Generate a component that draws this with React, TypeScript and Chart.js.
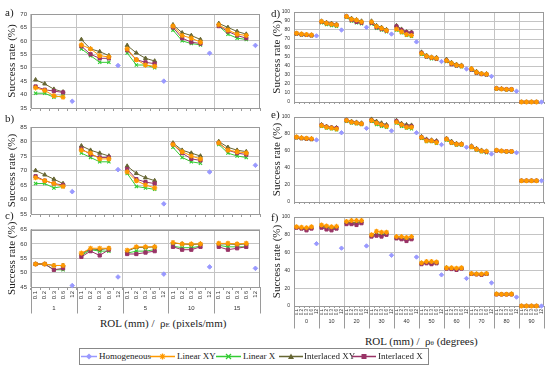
import React, { useEffect, useRef } from 'react';
import { Chart, registerables } from 'chart.js';
Chart.register(...registerables);

// ---------- categories / labels ----------
const SUB_LABELS = ['0.1', '0.2', '0.3', '0.6', '12'];
const GROUPS_ROL = ['1', '2', '5', '10', '15'];
const GROUPS_DEG = ['0', '10', '20', '30', '40', '50', '60', '70', '80', '90'];

// ---------- panel a ----------
const A_HOM = [37.5, 50.8, 45.0, 55.4, 58.3];
const A_LXY = [42.5, 41.5, 39.6, 39.0, 58.5, 57.0, 54.5, 54.0, 57.0, 53.0, 51.0, 50.5, 65.5, 62.0, 61.0, 59.5, 66.0, 64.0, 62.5, 62.0];
const A_LX = [40.5, 40.5, 39.0, 39.6, 57.0, 54.5, 52.0, 52.0, 55.5, 51.0, 51.0, 50.0, 64.0, 60.0, 59.0, 58.5, 65.5, 62.5, 61.0, 60.5];
const A_IXY = [45.5, 44.0, 42.0, 41.0, 60.5, 57.0, 56.0, 54.5, 58.3, 55.5, 53.5, 52.5, 66.0, 63.0, 62.0, 60.5, 66.5, 65.0, 63.5, 62.5];
const A_IX = [43.0, 41.8, 41.3, 40.8, 58.0, 55.0, 53.5, 53.5, 56.5, 53.0, 52.0, 51.5, 65.0, 61.0, 59.5, 59.0, 65.5, 63.5, 62.0, 61.0];

// ---------- panel b ----------
const B_HOM = [62.7, 70.3, 58.5, 69.5, 71.8];
const B_LXY = [67.5, 66.5, 65.5, 64.5, 77.0, 76.0, 74.0, 74.0, 69.5, 66.5, 65.0, 64.0, 79.0, 76.5, 75.0, 74.0, 79.5, 77.0, 76.5, 76.0];
const B_LX = [65.5, 65.5, 64.0, 64.5, 76.0, 74.5, 73.0, 73.0, 69.0, 64.5, 64.0, 63.5, 78.0, 74.5, 73.0, 72.5, 79.0, 76.0, 75.0, 74.5];
const B_IXY = [70.0, 68.5, 67.0, 65.5, 78.5, 77.0, 76.0, 75.0, 71.5, 69.0, 67.5, 66.5, 79.5, 77.0, 76.0, 75.0, 80.0, 78.0, 77.0, 76.5];
const B_IX = [68.0, 66.5, 65.5, 65.0, 77.5, 75.5, 74.5, 74.5, 70.5, 67.0, 66.0, 65.5, 79.0, 76.0, 74.0, 73.5, 79.5, 77.0, 76.0, 75.5];

// ---------- panel c ----------
const C_HOM = [45.5, 48.5, 49.5, 52.0, 51.5];
const C_LXY = [53.0, 53.0, 52.5, 52.5, 56.8, 58.5, 58.5, 58.5, 57.8, 59.0, 59.0, 59.0, 60.5, 60.0, 60.0, 60.0, 60.2, 60.2, 60.0, 60.2];
const C_LX = [53.0, 53.0, 51.0, 51.0, 56.0, 58.0, 57.5, 57.5, 56.8, 57.5, 57.5, 58.0, 59.2, 58.7, 58.7, 59.2, 59.5, 59.0, 59.0, 59.0];
const C_IXY = [53.0, 53.0, 52.5, 52.5, 56.5, 58.3, 58.0, 58.5, 57.5, 58.8, 58.8, 59.0, 60.3, 60.0, 59.8, 60.0, 60.0, 60.0, 59.8, 60.0];
const C_IX = [53.0, 53.0, 51.0, 51.5, 55.5, 57.5, 56.0, 58.0, 56.5, 56.5, 57.0, 57.5, 59.0, 58.0, 58.0, 59.0, 59.0, 58.0, 58.5, 59.0];

// ---------- panel d ----------
const D_HOM = [73.5, 80.0, 83.0, 75.5, 66.8, 45.0, 36.7, 28.5, 12.0, 0];
const D_LXY = [76.5, 75.5, 75.0, 74.5, 89.5, 87.5, 86.5, 85.5, 95.0, 92.0, 91.0, 89.0, 89.0, 84.0, 82.0, 79.5, 81.0, 78.0, 75.0, 74.0, 54.0, 51.0, 49.5, 48.5, 46.0, 43.0, 41.0, 40.0, 37.0, 33.0, 31.5, 31.0, 15.0, 14.5, 14.0, 14.0, 0, 0, 0, 0];
const D_LX = [75.5, 74.5, 74.0, 73.5, 88.0, 86.0, 85.0, 84.0, 94.0, 90.0, 88.0, 87.0, 87.0, 82.0, 80.0, 78.0, 80.0, 77.0, 74.0, 73.0, 53.0, 50.0, 48.0, 47.5, 45.0, 42.0, 40.0, 39.0, 35.5, 32.0, 31.0, 30.0, 14.5, 14.0, 13.5, 13.5, 0, 0, 0, 0];
const D_IXY = [76.5, 75.5, 75.0, 74.5, 90.0, 88.5, 87.5, 86.5, 95.5, 93.0, 91.5, 90.0, 90.0, 85.0, 83.0, 80.5, 85.0, 81.0, 78.0, 77.5, 55.5, 52.0, 50.0, 49.5, 47.5, 44.0, 42.0, 41.0, 37.5, 34.0, 32.0, 31.5, 15.5, 14.8, 14.3, 14.3, 0, 0, 0, 0];
const D_IX = [76.0, 75.0, 74.5, 74.0, 89.0, 87.5, 86.5, 85.5, 95.0, 91.0, 89.0, 88.0, 88.0, 83.0, 81.0, 79.0, 84.0, 80.0, 77.5, 77.0, 54.5, 50.5, 49.0, 48.0, 46.0, 42.0, 40.5, 40.0, 36.0, 32.5, 31.0, 30.5, 15.0, 14.5, 14.0, 14.0, 0, 0, 0, 0];

// ---------- panel e ----------
const E_HOM = [73.0, 81.5, 86.7, 83.7, 81.5, 67.5, 64.5, 56.5, 58.0, 25.0];
const E_LXY = [76.5, 75.5, 75.0, 74.5, 90.0, 88.0, 87.0, 86.0, 96.0, 94.0, 93.0, 92.0, 96.0, 93.0, 91.0, 89.0, 94.0, 91.0, 88.0, 88.0, 76.0, 72.0, 72.0, 70.0, 74.0, 70.0, 68.0, 68.0, 65.0, 62.0, 60.0, 59.5, 61.0, 60.0, 59.5, 59.5, 25, 25, 25, 25];
const E_LX = [75.5, 74.5, 74.0, 73.5, 89.0, 87.0, 86.0, 85.0, 95.0, 93.0, 92.0, 91.0, 95.0, 91.0, 89.0, 88.0, 93.0, 89.0, 87.0, 86.0, 75.0, 71.0, 71.0, 69.0, 73.0, 69.0, 67.0, 67.0, 64.0, 61.0, 59.0, 58.0, 60.5, 59.5, 59.0, 59.0, 25, 25, 25, 25];
const E_IXY = [76.5, 75.5, 75.0, 74.5, 91.0, 89.0, 88.0, 87.5, 96.5, 95.0, 94.0, 93.0, 97.5, 95.0, 93.0, 91.0, 96.0, 92.5, 91.0, 90.5, 77.0, 74.0, 73.0, 72.0, 75.0, 71.5, 69.0, 68.5, 66.0, 63.0, 61.0, 60.0, 61.0, 60.0, 59.5, 59.5, 25, 25, 25, 25];
const E_IX = [76.0, 75.0, 74.5, 74.0, 90.5, 88.5, 87.5, 87.0, 96.0, 94.0, 93.0, 92.0, 96.0, 93.0, 91.0, 89.5, 95.0, 91.0, 89.0, 89.0, 76.0, 73.0, 72.0, 71.0, 74.0, 70.0, 68.0, 68.0, 65.0, 62.0, 60.0, 59.0, 60.5, 60.0, 59.5, 59.5, 25, 25, 25, 25];

// ---------- panel f ----------
const F_HOM = [70.0, 65.0, 67.5, 57.0, 55.0, 35.0, 31.0, 26.0, 10.0, 0];
const F_LXY = [89.0, 88.5, 88.0, 89.0, 91.0, 90.0, 89.0, 89.5, 95.0, 96.0, 96.0, 96.0, 80.0, 84.0, 83.0, 83.0, 78.0, 78.0, 77.0, 78.0, 48.5, 50.0, 50.0, 49.5, 43.0, 43.0, 42.5, 43.0, 36.5, 36.0, 36.0, 36.5, 13.5, 13.2, 13.2, 13.5, 0, 0, 0, 0];
const F_LX = [88.0, 87.0, 86.0, 88.0, 89.0, 88.0, 87.0, 87.0, 94.0, 93.0, 93.0, 94.0, 79.0, 80.0, 80.0, 81.0, 76.0, 76.0, 75.0, 76.0, 48.0, 49.0, 48.0, 48.0, 43.0, 42.0, 41.5, 42.5, 36.0, 36.0, 35.5, 36.0, 13.5, 13.0, 13.0, 13.5, 0, 0, 0, 0];
const F_IXY = [88.5, 88.0, 87.0, 88.0, 90.0, 89.0, 88.0, 89.0, 94.0, 94.0, 94.0, 95.0, 79.0, 81.0, 80.0, 82.0, 77.0, 76.0, 75.0, 76.0, 48.0, 49.0, 48.0, 49.0, 43.0, 42.5, 42.0, 42.5, 36.0, 36.0, 35.5, 36.0, 13.5, 13.0, 13.0, 13.5, 0, 0, 0, 0];
const F_IX = [88.0, 87.0, 85.0, 87.0, 88.0, 86.0, 85.0, 87.0, 92.0, 92.0, 91.0, 93.0, 78.0, 79.0, 78.0, 80.0, 76.0, 75.0, 73.0, 75.0, 47.0, 48.0, 47.0, 48.0, 42.0, 41.5, 40.5, 42.0, 36.0, 35.5, 35.0, 36.0, 13.0, 13.0, 13.0, 13.0, 0, 0, 0, 0];

// ---------- styling ----------
const COL_HOM = '#9999FF';
const COL_LXY = '#FF9900';
const COL_LX = '#33CC33';
const COL_IXY = '#666633';
const COL_IX = '#993366';
const GRID = '#c4c4c4';
const AXIS = '#9a9a9a';
const SERIF = '"Liberation Serif", "Times New Roman", serif';
const SANS = '"Liberation Sans", Arial, sans-serif';

function spread(vals: number[], nGroups: number): (number | null)[] {
  const out: (number | null)[] = [];
  for (let g = 0; g < nGroups; g++) for (let s = 0; s < 5; s++) out.push(s < 4 ? vals[g * 4 + s] : null);
  return out;
}
function spreadHom(vals: number[], nGroups: number): (number | null)[] {
  const out: (number | null)[] = [];
  for (let g = 0; g < nGroups; g++) for (let s = 0; s < 5; s++) out.push(s === 4 ? vals[g] : null);
  return out;
}

interface PanelDef {
  left: number; top: number; w: number; h: number;
  padTop: number; padRight: number; yWidth: number; xHeight: number;
  min: number; max: number; step: number;
  groups: string[]; showLabels: boolean;
  tickLen: number; subFont: number; groupFont: number; groupY: number; sepLen: number;
  yFont: number; r: number;
  hom: number[]; lxy: number[]; lx: number[]; ixy: number[]; ix: number[];
}

const decoPlugin = {
  id: 'deco',
  beforeDatasetsDraw(chart: any, _a: any, opts: any) {
    const { ctx, chartArea: a } = chart;
    ctx.save();
    ctx.strokeStyle = AXIS;
    ctx.lineWidth = 1;
    const l = Math.round(a.left) + 0.5, t = Math.round(a.top) + 0.5;
    const r = Math.round(a.right) - 0.5, b = Math.round(a.bottom) + 0.5;
    ctx.strokeRect(l, t, r - l, b - t);
    if (opts.showGroups) {
      const n = opts.groups.length;
      const gw = (a.right - a.left) / n;
      ctx.beginPath();
      for (let g = 0; g <= n; g++) {
        const x = Math.round(a.left + g * gw) + 0.5;
        ctx.moveTo(x, b);
        ctx.lineTo(x, b + opts.sepLen);
      }
      ctx.stroke();
    }
    ctx.restore();
  },
  afterDraw(chart: any, _a: any, opts: any) {
    const { ctx, chartArea: a } = chart;
    ctx.save();
    ctx.fillStyle = '#222';
    ctx.font = `11px ${SERIF}`;
    ctx.textAlign = 'center';
    ctx.textBaseline = 'middle';
    ctx.translate(12, (a.top + a.bottom) / 2);
    ctx.rotate(-Math.PI / 2);
    ctx.fillText('Success rate (%)', 0, 0);
    ctx.restore();
    if (opts.showGroups) {
      const n = opts.groups.length;
      const gw = (a.right - a.left) / n;
      ctx.save();
      ctx.fillStyle = '#333';
      ctx.font = `${opts.groupFont}px ${SANS}`;
      ctx.textAlign = 'center';
      ctx.textBaseline = 'middle';
      for (let g = 0; g < n; g++) {
        ctx.fillText(opts.groups[g], a.left + (g + 0.5) * gw, a.bottom + opts.groupY);
      }
      ctx.restore();
    }
  },
};

function buildConfig(p: PanelDef): any {
  const n = p.groups.length;
  const labels: string[] = [];
  for (let g = 0; g < n; g++) for (const s of SUB_LABELS) labels.push(s);
  const line = (label: string, vals: number[], color: string, style: string, order: number, rad: number, bw: number) => ({
    label, data: spread(vals, n), borderColor: color, backgroundColor: color,
    borderWidth: 1, pointStyle: style, pointRadius: rad, pointBorderWidth: bw,
    pointBackgroundColor: color, pointBorderColor: color, spanGaps: false, order, clip: false,
  });
  const datasets = [
    line('Linear XY', p.lxy, COL_LXY, 'star', 0, p.r + 0.3, 1.2),
    line('Interlaced X', p.ix, COL_IX, 'rect', 1, p.r, 1),
    line('Interlaced XY', p.ixy, COL_IXY, 'triangle', 2, p.r, 1),
    line('Linear X', p.lx, COL_LX, 'crossRot', 3, p.r, 1.1),
    {
      label: 'Homogeneous', data: spreadHom(p.hom, n), borderColor: COL_HOM, backgroundColor: COL_HOM,
      borderWidth: 1, showLine: false, pointStyle: 'rectRot', pointRadius: p.r, pointBorderWidth: 1,
      pointBackgroundColor: COL_HOM, pointBorderColor: COL_HOM, order: 4, clip: false,
    },
  ];
  return {
    type: 'line',
    data: { labels, datasets },
    options: {
      animation: false,
      responsive: false,
      devicePixelRatio: 1,
      events: [],
      layout: { padding: { top: p.padTop, right: p.padRight, left: 0, bottom: 0 } },
      plugins: {
        legend: { display: false },
        tooltip: { enabled: false },
        deco: { groups: p.groups, showGroups: p.showLabels, groupFont: p.groupFont, groupY: p.groupY, sepLen: p.sepLen },
      },
      scales: {
        x: {
          type: 'category',
          offset: true,
          grid: {
            offset: true,
            color: (c: any) => (typeof c.index === 'number' && c.index % 5 === 0 ? GRID : 'rgba(0,0,0,0)'),
            tickColor: AXIS,
            tickLength: p.tickLen,
            drawTicks: true,
          },
          border: { display: true, color: AXIS },
          ticks: {
            display: p.showLabels, autoSkip: false, maxRotation: 90, minRotation: 90, padding: 1,
            font: { size: p.subFont, family: SANS }, color: '#333',
          },
          afterFit: (s: any) => { s.height = p.xHeight; },
        },
        y: {
          min: p.min, max: p.max,
          ticks: { stepSize: p.step, padding: 4, font: { size: p.yFont, family: SANS }, color: '#333' },
          grid: { color: GRID, drawTicks: false },
          border: { display: true, color: AXIS },
          afterFit: (s: any) => { s.width = p.yWidth; },
        },
      },
    },
    plugins: [decoPlugin],
  };
}

const LEFT = { left: 0, w: 270, padRight: 10, yWidth: 31, groups: GROUPS_ROL, step: 5, subFont: 6, groupFont: 6, yFont: 6, r: 2.3 };
const RIGHT = { left: 265, w: 285, padRight: 6, yWidth: 29, groups: GROUPS_DEG, step: 10, subFont: 4.5, groupFont: 5.5, yFont: 5, r: 2.2, min: 0, max: 100 };

const PANELS: PanelDef[] = [
  { ...LEFT, top: 0, h: 116, padTop: 14, xHeight: 8, min: 35, max: 70, showLabels: false, tickLen: 3, groupY: 21, sepLen: 26, hom: A_HOM, lxy: A_LXY, lx: A_LX, ixy: A_IXY, ix: A_IX },
  { ...LEFT, top: 116, h: 106, padTop: 11, xHeight: 8, min: 55, max: 85, showLabels: false, tickLen: 3, groupY: 21, sepLen: 26, hom: B_HOM, lxy: B_LXY, lx: B_LX, ixy: B_IXY, ix: B_IX },
  { ...LEFT, top: 222, h: 94, padTop: 6, xHeight: 29, min: 45, max: 65, showLabels: true, tickLen: 3, groupY: 21, sepLen: 26, hom: C_HOM, lxy: C_LXY, lx: C_LX, ixy: C_IXY, ix: C_IX },
  { ...RIGHT, top: 0, h: 110, padTop: 12, xHeight: 8, showLabels: false, tickLen: 2, groupY: 15, sepLen: 22, hom: D_HOM, lxy: D_LXY, lx: D_LX, ixy: D_IXY, ix: D_IX },
  { ...RIGHT, top: 110, h: 100, padTop: 2, xHeight: 8, showLabels: false, tickLen: 2, groupY: 15, sepLen: 22, hom: E_HOM, lxy: E_LXY, lx: E_LX, ixy: E_IXY, ix: E_IX },
  { ...RIGHT, top: 210, h: 122, padTop: 5, xHeight: 26, showLabels: true, tickLen: 2, groupY: 15, sepLen: 22, hom: F_HOM, lxy: F_LXY, lx: F_LX, ixy: F_IXY, ix: F_IX },
];

const PANEL_TAGS = [
  { t: 'a)', x: 5, y: 6 }, { t: 'b)', x: 5, y: 112 }, { t: 'c)', x: 5, y: 209 },
  { t: 'd)', x: 271, y: 7 }, { t: 'e)', x: 271, y: 108 }, { t: 'f)', x: 271, y: 211 },
];

function PanelChart({ p }: { p: PanelDef }) {
  const ref = useRef<HTMLCanvasElement>(null);
  useEffect(() => {
    if (!ref.current) return;
    const chart = new Chart(ref.current, buildConfig(p));
    return () => chart.destroy();
  }, [p]);
  return (
    <canvas ref={ref} width={p.w} height={p.h}
      style={{ position: 'absolute', left: p.left, top: p.top, width: p.w, height: p.h }} />
  );
}

function LegendIcon({ kind, color, w }: { kind: string; color: string; w: number }) {
  const c = w / 2, y = 4.5, r = 3;
  let marker: any = null;
  if (kind === 'rectRot') marker = <polygon points={`${c},${y - r} ${c + r},${y} ${c},${y + r} ${c - r},${y}`} fill={color} />;
  if (kind === 'star') marker = (
    <g stroke={color} strokeWidth={1.3}>
      <line x1={c - r} y1={y} x2={c + r} y2={y} />
      <line x1={c} y1={y - r} x2={c} y2={y + r} />
      <line x1={c - r * 0.7} y1={y - r * 0.7} x2={c + r * 0.7} y2={y + r * 0.7} />
      <line x1={c - r * 0.7} y1={y + r * 0.7} x2={c + r * 0.7} y2={y - r * 0.7} />
    </g>
  );
  if (kind === 'crossRot') marker = (
    <g stroke={color} strokeWidth={1.2}>
      <line x1={c - 2.5} y1={y - 2.5} x2={c + 2.5} y2={y + 2.5} />
      <line x1={c - 2.5} y1={y + 2.5} x2={c + 2.5} y2={y - 2.5} />
    </g>
  );
  if (kind === 'triangle') marker = <polygon points={`${c},${y - 3} ${c + 3},${y + 2.5} ${c - 3},${y + 2.5}`} fill={color} />;
  if (kind === 'rect') marker = <rect x={c - 2.5} y={y - 2.5} width={5} height={5} fill={color} />;
  return (
    <svg width={w} height={9} style={{ display: 'block' }}>
      <line x1={0} y1={y} x2={w} y2={y} stroke={color} strokeWidth={1.5} />
      {marker}
    </svg>
  );
}

const LEGEND = [
  { label: 'Homogeneous', color: COL_HOM, kind: 'rectRot', x: 81, w: 16, tx: 99 },
  { label: 'Linear XY', color: COL_LXY, kind: 'star', x: 150, w: 25, tx: 177 },
  { label: 'Linear X', color: COL_LX, kind: 'crossRot', x: 216, w: 25, tx: 243 },
  { label: 'Interlaced XY', color: COL_IXY, kind: 'triangle', x: 279, w: 24, tx: 304 },
  { label: 'Interlaced X', color: COL_IX, kind: 'rect', x: 352, w: 24, tx: 378 },
];

export default function App() {
  return (
    <div style={{ position: 'fixed', left: 0, top: 0, width: 550, height: 370, background: '#fff', overflow: 'hidden', fontFamily: SERIF, color: '#222' }}>
      {PANELS.map((p, i) => <PanelChart key={i} p={p} />)}
      {PANEL_TAGS.map((t) => (
        <div key={t.t} style={{ position: 'absolute', left: t.x, top: t.y, fontSize: 11, lineHeight: '12px' }}>{t.t}</div>
      ))}
      <div style={{ position: 'absolute', left: 100, top: 317, fontSize: 11, lineHeight: '12px', whiteSpace: 'nowrap' }}>
        ROL (mm) /&nbsp; ρ<span style={{ fontSize: 7 }}>E</span> (pixels/mm)
      </div>
      <div style={{ position: 'absolute', left: 365, top: 335, fontSize: 11, lineHeight: '12px', whiteSpace: 'nowrap' }}>
        ROL (mm) /&nbsp; ρ<span style={{ fontSize: 7 }}>θ</span> (degrees)
      </div>
      <div style={{ position: 'absolute', left: 79, top: 348, width: 350, height: 17, border: '1px solid #888', boxSizing: 'border-box' }} />
      {LEGEND.map((it) => (
        <React.Fragment key={it.label}>
          <div style={{ position: 'absolute', left: it.x, top: 352 }}>
            <LegendIcon kind={it.kind} color={it.color} w={it.w} />
          </div>
          <div style={{ position: 'absolute', left: it.tx, top: 351, fontSize: 9, lineHeight: '11px', whiteSpace: 'nowrap' }}>{it.label}</div>
        </React.Fragment>
      ))}
    </div>
  );
}
